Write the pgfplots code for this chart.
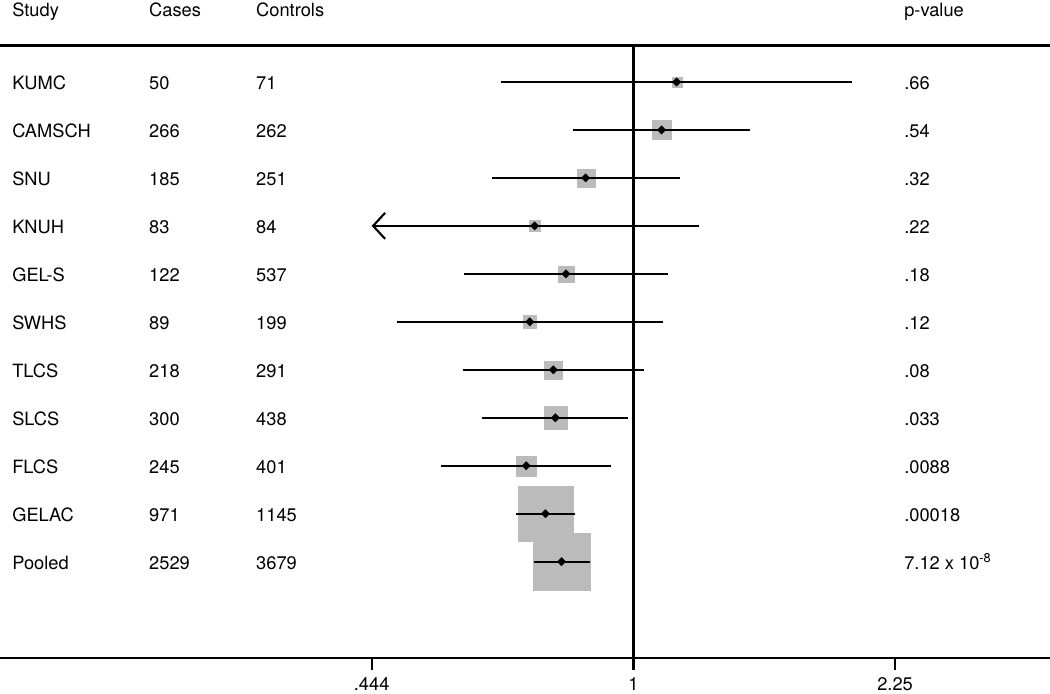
\documentclass[border=0pt]{standalone}
\usepackage{pgfplots}
\pgfplotsset{compat=1.18}
\usepackage{pgfplotstable}
\usepackage{fontspec}
\setmainfont{TeX Gyre Heros}
\usetikzlibrary{arrows.meta}
\definecolor{boxgray}{RGB}{187,187,187}

% y = row position, or = estimate, lo/hi = CI, half = half side of weight box (pt)
\pgfplotstableread{
y    or     lo     hi     half
-1   1.143  0.663  1.969  3.75
-2   1.091  0.829  1.435  7.1
-3   0.862  0.645  1.155  6.75
-4   0.736  0.444  1.225  4.1
-5   0.811  0.591  1.114  6.0
-6   0.725  0.481  1.095  4.9
-7   0.780  0.589  1.034  6.75
-8   0.785  0.626  0.983  8.5
-9   0.717  0.551  0.934  7.4
-10  0.761  0.695  0.833  20.4
-11  0.800  0.734  0.875  21.4
}\forest

\newcommand\txtfont{\fontsize{13.7}{16}\selectfont}
\tikzset{lbl/.style={anchor=base west, inner sep=0pt, yshift=-5.85pt, font=\txtfont}}
\newcommand\rowtext[5]{%
  \node[lbl] at (axis cs:0.1456,#1) {#2};
  \node[lbl] at (axis cs:0.2226,#1) {#3};
  \node[lbl] at (axis cs:0.3102,#1) {#4};
  \node[lbl] at (axis cs:2.3136,#1) {#5};
}

\begin{document}
\begin{tikzpicture}
\begin{axis}[
  set layers, clip mode=individual,
  at={(0pt,26.25pt)}, anchor=south west,
  width=787.5pt, height=493.5pt, scale only axis,
  xmode=log, xmin=0.14026, xmax=3.6381,
  ymin=-13.008, ymax=0.709,
  axis x line=bottom, axis y line=none,
  axis line style={-, line width=1.7pt},
  xtick={0.444,1,2.25}, xticklabels={.444,1,2.25},
  minor xtick={},
  tick align=outside, major tick length=9pt,
  tick style={line width=1.7pt, black},
  xticklabel style={font=\txtfont, yshift=-2.5pt},
  /pgf/number format/assume math mode=true,
  clip=false,
]
% weight boxes
\addplot[on layer=axis background, mark layer=axis background,
  scatter, only marks, mark=square*,
  scatter/use mapped color={draw=boxgray, fill=boxgray},
  mark options={line width=0.1pt},
  visualization depends on={\thisrow{half} \as \hs},
  scatter/@pre marker code/.append style={/tikz/mark size=\hs pt}]
  table[x=or, y=y] {\forest};

% confidence intervals
\addplot[line width=1.7pt] coordinates {(0.663,-1) (1.969,-1)};
\addplot[line width=1.7pt] coordinates {(0.829,-2) (1.435,-2)};
\addplot[line width=1.7pt] coordinates {(0.645,-3) (1.155,-3)};
\addplot[line width=1.7pt, -{Straight Barb[length=9pt, width=19.5pt, line width=1.6pt]}] coordinates {(1.225,-4) (0.444,-4)};
\addplot[line width=1.7pt] coordinates {(0.591,-5) (1.114,-5)};
\addplot[line width=1.7pt] coordinates {(0.481,-6) (1.095,-6)};
\addplot[line width=1.7pt] coordinates {(0.589,-7) (1.034,-7)};
\addplot[line width=1.7pt] coordinates {(0.626,-8) (0.983,-8)};
\addplot[line width=1.7pt] coordinates {(0.551,-9) (0.934,-9)};
\addplot[line width=1.7pt] coordinates {(0.695,-10) (0.833,-10)};
\addplot[line width=1.7pt] coordinates {(0.734,-11) (0.875,-11)};

% estimates
\addplot[only marks, mark=square*, mark size=2.2pt,
  mark options={black, fill=black, line width=0.3pt, rotate=45}]
  table[x=or, y=y] {\forest};

% reference line and header rule
\addplot[line width=1.7pt] coordinates {(1,-0.239) (1,-13.008)};
\addplot[line width=1.7pt] coordinates {(0.14026,-0.239) (3.6381,-0.239)};

\rowtext{0.52}{Study}{Cases}{Controls}{p-value}
\rowtext{-1}{KUMC}{50}{71}{.66}
\rowtext{-2}{CAMSCH}{266}{262}{.54}
\rowtext{-3}{SNU}{185}{251}{.32}
\rowtext{-4}{KNUH}{83}{84}{.22}
\rowtext{-5}{GEL-S}{122}{537}{.18}
\rowtext{-6}{SWHS}{89}{199}{.12}
\rowtext{-7}{TLCS}{218}{291}{.08}
\rowtext{-8}{SLCS}{300}{438}{.033}
\rowtext{-9}{FLCS}{245}{401}{.0088}
\rowtext{-10}{GELAC}{971}{1145}{.00018}
\rowtext{-11}{Pooled}{2529}{3679}{7.12 x 10\textsuperscript{-8}}
\end{axis}
\pgfresetboundingbox
\useasboundingbox (0,0) rectangle (787.5pt,519.75pt);
\end{tikzpicture}
\end{document}
